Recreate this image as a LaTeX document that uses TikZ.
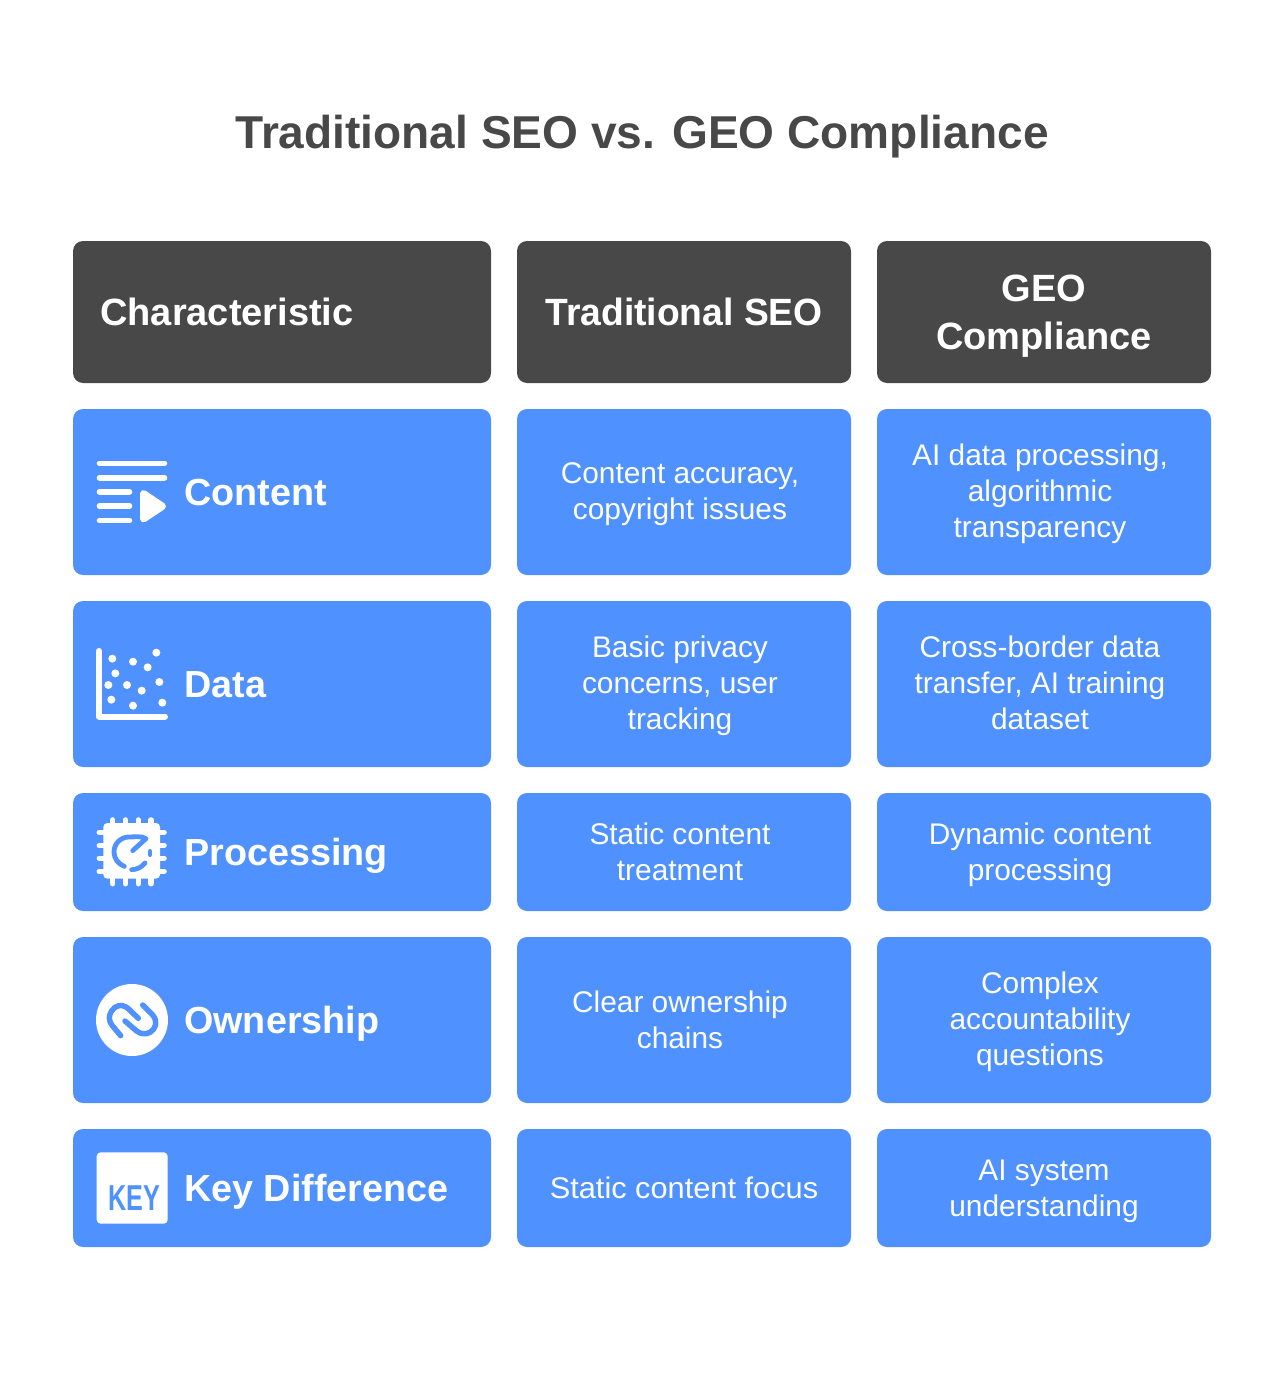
\documentclass[tikz,border=0pt]{standalone}
\usepackage{fontspec}
\setmainfont{Liberation Sans}
\definecolor{hdr}{HTML}{484848}
\definecolor{cellblue}{HTML}{4F91FF}
\definecolor{titlec}{HTML}{484848}
\tikzset{
  x=0.75pt,y=-0.75pt,
  box/.style={rounded corners=7.5pt,inner sep=0pt,outer sep=0pt},
  hbox/.style={box,fill=hdr},
  cbox/.style={box,fill=cellblue},
  head/.style={text=white,font=\fontsize{28.5pt}{36pt}\selectfont\bfseries,align=center,inner sep=0pt,execute at begin node=\strut,execute at end node=\strut},
  rowh/.style={text=white,font=\fontsize{28.3pt}{36pt}\selectfont\bfseries,anchor=west,inner sep=0pt,execute at begin node=\strut},
  body/.style={text=white,font=\fontsize{22.4pt}{27pt}\selectfont,align=center,inner sep=0pt,execute at begin node=\strut,execute at end node=\strut},
  ic/.style={draw=white,line cap=round,line join=round,line width=4.2pt},
  icb/.style={draw=cellblue,line cap=round,line join=round,line width=4pt},
}
\begin{document}
\begin{tikzpicture}
\useasboundingbox (0,0) rectangle (1284,1381);
\node[text=titlec,font=\fontsize{34.55pt}{42pt}\selectfont\bfseries,inner sep=0pt,anchor=base] (title) at (642,148) {Traditional SEO vs. GEO Compliance};
% boxes
\fill[hbox] (73,241) rectangle (491,383);
\fill[hbox] (517,241) rectangle (851,383);
\fill[hbox] (877,241) rectangle (1211,383);
\foreach \a/\b in {409/575,601/767,793/911,937/1103,1129/1247}{
  \fill[cbox] (73,\a) rectangle (491,\b);
  \fill[cbox] (517,\a) rectangle (851,\b);
  \fill[cbox] (877,\a) rectangle (1211,\b);
}
% header text
\node[rowh,font=\fontsize{28.5pt}{36pt}\selectfont\bfseries] (h1) at (100,315.4) {Characteristic};
\node[head,xscale=.98] (h2) at (684,315.4) {Traditional SEO};
\node[head] (h3) at (1044,319.4) {GEO\\Compliance};
% row heads
\node[rowh] (r1) at (184,495.4) {Content};
\node[rowh] (r2) at (184,687.4) {Data};
\node[rowh] (r3) at (184,855.4) {Processing};
\node[rowh] (r4) at (184,1023.4) {Ownership};
\node[rowh] (r5) at (184,1191.4) {Key Difference};
% body
\node[body] (a1) at (680,496) {Content accuracy,\\copyright issues};
\node[body] (b1) at (1040,496) {AI data processing,\\algorithmic\\transparency};
\node[body] (a2) at (680,688) {Basic privacy\\concerns, user\\tracking};
\node[body] (b2) at (1040,688.5) {Cross-border data\\transfer, AI training\\dataset};
\node[body] (a3) at (680,857) {Static content\\treatment};
\node[body] (b3) at (1040,857) {Dynamic content\\processing};
\node[body] (a4) at (680,1025) {Clear ownership\\chains};
\node[body] (b4) at (1040,1024) {Complex\\accountability\\questions};
\node[body,xscale=1.03] (a5) at (684,1191) {Static content focus};
\node[body] (b5) at (1044,1194) {AI system\\understanding};
% content icon
\draw[ic] (99.5,463.3) -- (164.5,463.3);
\draw[ic] (99.5,477.7) -- (164.5,477.7);
\draw[ic] (99.5,491.7) -- (129.5,491.7);
\draw[ic] (99.5,506) -- (129.5,506);
\draw[ic] (99.5,520.5) -- (129.5,520.5);
\filldraw[draw=white,fill=white,line width=5.25pt,line join=round] (143.5,493.5) -- (162.5,506.3) -- (143.5,519) -- cycle;
% data icon
\draw[ic,line width=4.5pt] (99,651) -- (99,716.5) -- (165,716.5);
\foreach \x/\y in {82/56,144/65,214/38,188/82,91/100,70/135,126/135,223/126,170/152,79/179,144/197,232/188}{
  \fill[white] ({85+\x/3},{640+\y/3}) circle[radius=3pt];
}
% processing icon
\begin{scope}[shift={(85,808)},x=0.25pt,y=-0.25pt]
  \fill[white,rounded corners=3pt] (55,45) rectangle (225,212);
  \foreach \p in {83,121,160,198}{
    \draw[ic,line width=4.2pt] (\p,36) -- (\p,50);
    \draw[ic,line width=4.2pt] (\p,207) -- (\p,227);
  }
  \foreach \p in {73,112,151,190}{
    \draw[ic,line width=4.2pt] (43,\p) -- (60,\p);
    \draw[ic,line width=4.2pt] (220,\p) -- (237,\p);
  }
  \draw[icb,line width=3.6pt] (143,128) -- (183,92) .. controls (170,83) and (150,87) .. (132,87) .. controls (107,87) and (87,107) .. (87,132) .. controls (87,152) and (100,168) .. (118,175);
  \draw[icb,line width=3.6pt] (140,185) .. controls (155,185) and (170,178) .. (180,165);
  \draw[icb,line width=3.6pt] (195,130) -- (195,140);
\end{scope}
% ownership icon
\fill[white] (132,1020) circle[radius=27pt];
\begin{scope}[shift={(85,975)},x=0.25pt,y=-0.25pt]
  \draw[icb,line width=4.1pt] (107,182) -- (82,152) .. controls (65,130) and (75,108) .. (90,97) .. controls (105,87) and (122,92) .. (132,103) -- (160,130);
  \draw[icb,line width=4.1pt] (173,90) -- (203,120) .. controls (220,140) and (212,162) .. (195,172) .. controls (180,180) and (165,176) .. (155,168) -- (120,138);
\end{scope}
% key icon
\fill[white,rounded corners=3pt] (96.7,1152.3) rectangle (167.7,1223.7);
\node[text=cellblue,font=\fontsize{27pt}{27pt}\selectfont\bfseries,inner sep=0pt,xscale=.7] (keytxt) at (134,1198) {KEY};
\end{tikzpicture}
\end{document}
